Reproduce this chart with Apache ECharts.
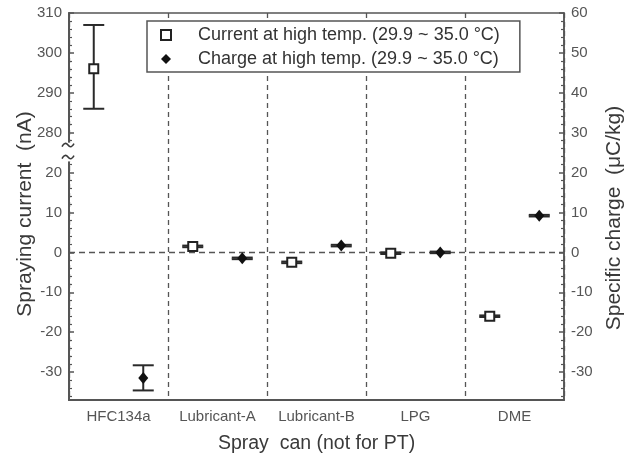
<!DOCTYPE html>
<html>
<head>
<meta charset="utf-8">
<script src="https://cdn.jsdelivr.net/npm/echarts@6/dist/echarts.min.js"></script>
<style>html,body{margin:0;padding:0;background:#fff;}#c{width:629px;height:454px;}</style>
</head>
<body>
<div id="c"></div>
<script>
// ---- data ----
var categories = ['HFC134a', 'Lubricant-A', 'Lubricant-B', 'LPG', 'DME'];
var currentValues   = [296, 1.5, -2.5, -0.2, -16.0];   // nA
var currentErrLow   = [286, 1.3, -2.7, -0.4, -16.2];
var currentErrHigh  = [307, 1.7, -2.3,  0.0, -15.8];
var chargeValues    = [-31.5, -1.5, 1.7, 0.0, 9.2];    // uC/kg
var chargeErrLow    = [-34.6, -1.7, 1.5, -0.2, 9.0];
var chargeErrHigh   = [-28.3, -1.3, 1.9,  0.2, 9.4];
var leftTickLabelsLow  = [-30, -20, -10, 0, 10, 20];
var leftTickLabelsHigh = [280, 290, 300, 310];
var rightTickLabels = [-30, -20, -10, 0, 10, 20, 30, 40, 50, 60];

var seriesNames = ['Current at high temp. (29.9 ~ 35.0 \u00B0C)', 'Charge at high temp. (29.9 ~ 35.0 \u00B0C)'];

// broken left axis: values >= breakHigh are shifted down onto a continuous virtual scale
var breakLow = 20, breakHigh = 280, breakGap = 10;
function toVirtual(v) { return v >= breakHigh ? v - breakHigh + breakLow + breakGap : v; }
function fromVirtual(vv) { return vv > breakLow + breakGap / 2 ? vv - breakLow - breakGap + breakHigh : vv; }
var axisMin = -37, axisMaxLeft = toVirtual(310), axisMaxRight = 60;
var currentOffset = 0.25, chargeOffset = 0.75;

var FONT = 'Liberation Sans, Arial, sans-serif';
var AX = '#555';

function pts(vals, off, tr) { return vals.map(function (v, i) { return [i + off, tr(v)]; }); }
function errs(lo, hi, off, tr) { return lo.map(function (v, i) { return [i + off, tr(v), tr(hi[i])]; }); }
var ident = function (v) { return v; };

function errRender(params, api) {
  var x = api.value(0);
  var p1 = api.coord([x, api.value(1)]);
  var p2 = api.coord([x, api.value(2)]);
  var hw = 10.5;
  var st = { stroke: '#2a2a2a', lineWidth: 2 };
  return { type: 'group', children: [
    { type: 'line', shape: { x1: p1[0], y1: p1[1], x2: p2[0], y2: p2[1] }, style: st },
    { type: 'line', shape: { x1: p1[0] - hw, y1: p1[1], x2: p1[0] + hw, y2: p1[1] }, style: st },
    { type: 'line', shape: { x1: p2[0] - hw, y1: p2[1], x2: p2[0] + hw, y2: p2[1] }, style: st }
  ]};
}

function zeroLineRender(params, api) {
  var cs = params.coordSys;
  var y = api.coord([0, api.value(1)])[1];
  return { type: 'line', shape: { x1: cs.x, y1: y, x2: cs.x + cs.width, y2: y },
    style: { stroke: AX, lineWidth: 1.5, lineDash: [6, 4] } };
}

function breakRender(params, api) {
  var cs = params.coordSys;
  var x0 = cs.x;
  var yTop = api.coord([0, breakLow + breakGap * 0.75])[1];
  var yBot = api.coord([0, breakLow + breakGap * 0.28])[1];
  var yA = api.coord([0, breakLow + breakGap * 0.69])[1];
  var yB = api.coord([0, breakLow + breakGap * 0.39])[1];
  function tilde(y) {
    var xc = x0 - 1;
    return { type: 'path', shape: { pathData:
      'M' + (xc - 6) + ' ' + (y + 1.5) + ' Q' + (xc - 3) + ' ' + (y - 4) + ' ' + xc + ' ' + y +
      ' Q' + (xc + 3) + ' ' + (y + 4) + ' ' + (xc + 6) + ' ' + (y - 1.5) },
      style: { fill: 'none', stroke: '#3a3a3a', lineWidth: 1.6 } };
  }
  return { type: 'group', children: [
    { type: 'rect', shape: { x: x0 - 8, y: yTop, width: 16, height: yBot - yTop }, style: { fill: '#fff' } },
    tilde(yA), tilde(yB)
  ]};
}

var chart = echarts.init(document.getElementById('c'), null, { renderer: 'canvas' });
chart.setOption({
  animation: false,
  backgroundColor: '#fff',
  textStyle: { fontFamily: FONT },
  grid: { left: 69, right: 65, top: 13, bottom: 54, outerBoundsMode: 'none', containLabel: false,
    show: true, borderColor: AX, borderWidth: 1.5, backgroundColor: 'transparent' },
  legend: {
    orient: 'vertical', left: 147, top: 21,
    padding: [5, 20, 4, 13], itemGap: 6, itemWidth: 10, itemHeight: 10,
    borderColor: AX, borderWidth: 1.5, backgroundColor: '#fff', borderRadius: 0,
    textStyle: { fontSize: 18, color: '#333', fontFamily: FONT, padding: [0, 0, 0, 22], lineHeight: 16 },
    data: seriesNames
  },
  xAxis: [{
    type: 'category', data: categories, boundaryGap: true,
    name: 'Spray  can (not for PT)', nameLocation: 'middle', nameGap: 34,
    nameTextStyle: { fontSize: 19.5, color: '#3a3a3a', fontFamily: FONT },
    axisLine: { onZero: false, lineStyle: { color: AX, width: 2 } },
    axisTick: { show: false },
    axisLabel: { interval: 0, fontSize: 15, color: '#555', margin: 9, fontFamily: FONT },
    splitLine: { show: true, interval: 0, lineStyle: { color: AX, width: 1.3, type: [5, 4] } }
  }, {
    type: 'value', min: 0, max: categories.length, show: false,
    axisLine: { show: false, onZero: false }
  }],
  yAxis: [{
    type: 'value', min: axisMin, max: axisMaxLeft, splitNumber: 10, position: 'left',
    name: 'Spraying current  (nA)', nameLocation: 'middle', nameGap: 33, nameMoveOverlap: false,
    nameTextStyle: { fontSize: 21, color: '#3a3a3a', fontFamily: FONT, padding: [0, 15, 0, 0] },
    axisLine: { show: true, onZero: false, lineStyle: { color: AX, width: 2 } },
    axisTick: { show: true, inside: true, length: 5, lineStyle: { color: AX, width: 1.5 } },
    minorTick: { show: true, splitNumber: 5, length: 3, lineStyle: { color: AX, width: 1.2 } },
    axisLabel: { fontSize: 15, color: '#555', margin: 7, fontFamily: FONT, formatter: function (vv) {
      var r = Math.round(fromVirtual(vv));
      if (Math.abs(vv - Math.round(vv)) > 1e-6) return '';
      if (leftTickLabelsLow.indexOf(r) >= 0 && vv <= breakLow) return String(r);
      if (leftTickLabelsHigh.indexOf(r) >= 0 && vv >= breakLow + breakGap) return String(r);
      return '';
    } },
    splitLine: { show: false }
  }, {
    type: 'value', min: axisMin, max: axisMaxRight, splitNumber: 10, position: 'right',
    name: 'Specific charge  (\u03BCC/kg)', nameLocation: 'middle', nameGap: 39, nameRotate: 90,
    nameTextStyle: { fontSize: 21, color: '#3a3a3a', fontFamily: FONT, padding: [0, 23, 0, 0] },
    axisLine: { show: true, onZero: false, lineStyle: { color: AX, width: 1.5 } },
    axisTick: { show: true, inside: true, length: 5, lineStyle: { color: AX, width: 1.5 } },
    minorTick: { show: true, splitNumber: 5, length: 3, lineStyle: { color: AX, width: 1.2 } },
    axisLabel: { fontSize: 15, color: '#555', margin: 7, fontFamily: FONT, formatter: function (v) {
      var r = Math.round(v);
      return (Math.abs(v - r) < 1e-6 && rightTickLabels.indexOf(r) >= 0) ? String(r) : '';
    } },
    splitLine: { show: false }
  }],
  series: [{
    name: 'zeroLine', type: 'custom', xAxisIndex: 1, yAxisIndex: 0, z: 1, silent: true,
    renderItem: zeroLineRender, data: [[0, 0]]
  }, {
    name: 'currentErr', type: 'custom', xAxisIndex: 1, yAxisIndex: 0, z: 3,
    renderItem: errRender, data: errs(currentErrLow, currentErrHigh, currentOffset, toVirtual), silent: true
  }, {
    name: 'chargeErr', type: 'custom', xAxisIndex: 1, yAxisIndex: 1, z: 3,
    renderItem: errRender, data: errs(chargeErrLow, chargeErrHigh, chargeOffset, ident), silent: true
  }, {
    name: seriesNames[0], type: 'scatter', xAxisIndex: 1, yAxisIndex: 0, z: 4,
    symbol: 'rect', symbolSize: 9,
    itemStyle: { color: '#fff', borderColor: '#222', borderWidth: 2, opacity: 1 },
    data: pts(currentValues, currentOffset, toVirtual)
  }, {
    name: seriesNames[1], type: 'scatter', xAxisIndex: 1, yAxisIndex: 1, z: 4,
    symbol: 'diamond', symbolSize: [10, 12],
    itemStyle: { color: '#111', opacity: 1 },
    data: pts(chargeValues, chargeOffset, ident)
  }, {
    name: 'axisBreak', type: 'custom', xAxisIndex: 1, yAxisIndex: 0, z: 10, silent: true,
    renderItem: breakRender, data: [[0, breakLow + breakGap / 2]]
  }]
});
</script>
</body>
</html>
